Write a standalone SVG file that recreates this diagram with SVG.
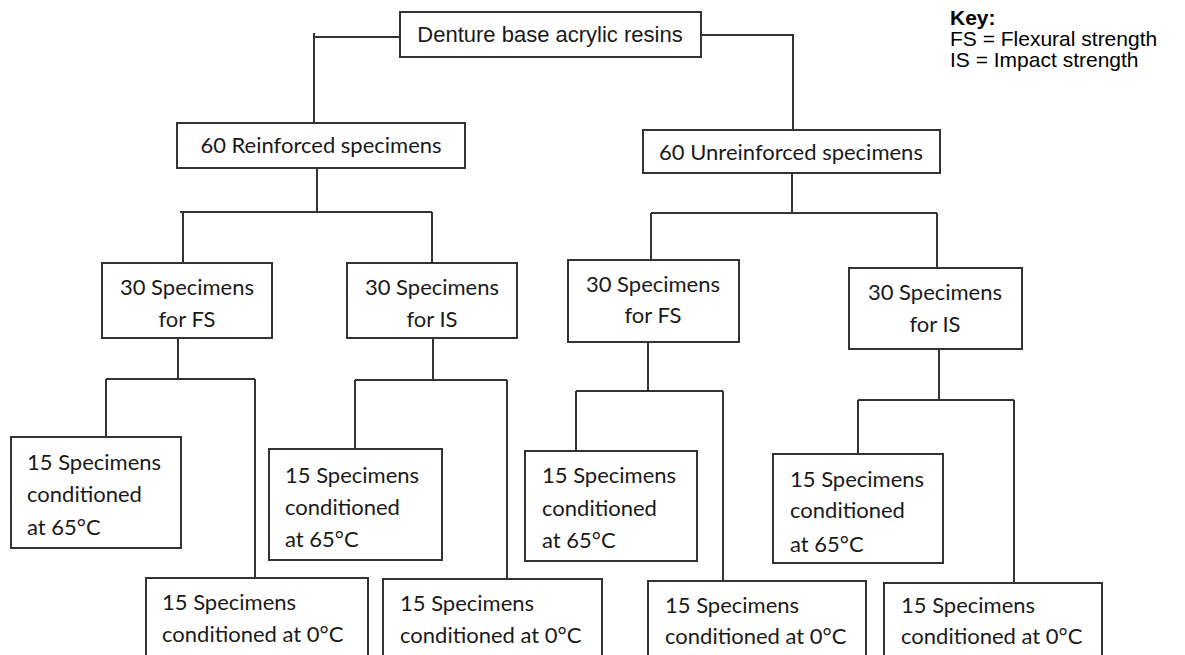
<svg xmlns="http://www.w3.org/2000/svg" width="1185" height="655" viewBox="0 0 1185 655">
<style>
.box{fill:#fff;stroke:#333;stroke-width:2}
.ln{fill:none;stroke:#333;stroke-width:2}
.t{font-family:Lato,"Open Sans",sans-serif;font-size:22px;fill:#1a1a1a}
.c{text-anchor:middle}
.a{font-family:"Liberation Sans",Arial,sans-serif;font-size:22px;fill:#1a1a1a}
.k{font-family:"Liberation Sans",Arial,sans-serif;font-size:21px;fill:#000}
</style>
<rect width="1185" height="655" fill="#fff"/>
<g id="connectors" class="ln">
<path d="M400,37 H314 M314,33 V123"/>
<path d="M701,35 H793 V130"/>
<path d="M317,168 V212 M180,212 H432 M183,212 V263 M432,212 V263"/>
<path d="M792,173 V213 M651,213 H937 M651,213 V260 M937,213 V268"/>
<path d="M178,338 V379 M106,379 H255 M106,379 V437 M255,379 V578"/>
<path d="M433,338 V380 M355,380 H507 M355,380 V449 M507,380 V579"/>
<path d="M648,342 V391 M576,391 H723 M576,391 V451 M723,391 V581"/>
<path d="M939,349 V400 M858,400 H1014 M858,400 V454 M1014,400 V583"/>
</g>
<g id="root"><rect class="box" x="400" y="12" width="301" height="45"/><text class="a c" x="550" y="42">Denture base acrylic resins</text></g>
<g id="reinforced"><rect class="box" x="177" y="123" width="288" height="45"/><text class="t c" x="321" y="153">60 Reinforced specimens</text></g>
<g id="unreinforced"><rect class="box" x="643" y="130" width="297" height="43"/><text class="t c" x="791" y="160">60 Unreinforced specimens</text></g>
<g id="r-fs"><rect class="box" x="102" y="263" width="170" height="75"/><text class="t c" x="187" y="295">30 Specimens</text><text class="t c" x="187" y="327">for FS</text></g>
<g id="r-is"><rect class="box" x="347" y="263" width="170" height="75"/><text class="t c" x="432" y="295">30 Specimens</text><text class="t c" x="432" y="327">for IS</text></g>
<g id="u-fs"><rect class="box" x="568" y="260" width="171" height="82"/><text class="t c" x="653" y="292">30 Specimens</text><text class="t c" x="653" y="323">for FS</text></g>
<g id="u-is"><rect class="box" x="849" y="268" width="173" height="81"/><text class="t c" x="935" y="300">30 Specimens</text><text class="t c" x="935" y="332">for IS</text></g>
<g id="r-fs-65"><rect class="box" x="11" y="437" width="170" height="111"/><text class="t" x="27" y="470">15 Specimens</text><text class="t" x="27" y="502">conditioned</text><text class="t" x="27" y="535">at 65°C</text></g>
<g id="r-fs-0"><rect class="box" x="146" y="578" width="222" height="90"/><text class="t" x="162" y="610">15 Specimens</text><text class="t" x="162" y="642">conditioned at 0°C</text></g>
<g id="r-is-65"><rect class="box" x="269" y="449" width="173" height="111"/><text class="t" x="285" y="483">15 Specimens</text><text class="t" x="285" y="515">conditioned</text><text class="t" x="285" y="547">at 65°C</text></g>
<g id="r-is-0"><rect class="box" x="383" y="579" width="219" height="90"/><text class="t" x="400" y="611">15 Specimens</text><text class="t" x="400" y="643">conditioned at 0°C</text></g>
<g id="u-fs-65"><rect class="box" x="525" y="451" width="172" height="110"/><text class="t" x="542" y="483">15 Specimens</text><text class="t" x="542" y="516">conditioned</text><text class="t" x="542" y="548">at 65°C</text></g>
<g id="u-fs-0"><rect class="box" x="648" y="581" width="218" height="90"/><text class="t" x="665" y="613">15 Specimens</text><text class="t" x="665" y="644">conditioned at 0°C</text></g>
<g id="u-is-65"><rect class="box" x="773" y="454" width="170" height="109"/><text class="t" x="790" y="487">15 Specimens</text><text class="t" x="790" y="518">conditioned</text><text class="t" x="790" y="552">at 65°C</text></g>
<g id="u-is-0"><rect class="box" x="884" y="583" width="218" height="90"/><text class="t" x="901" y="613">15 Specimens</text><text class="t" x="901" y="644">conditioned at 0°C</text></g>
<g id="key"><text class="k" x="950" y="25" font-weight="bold">Key:</text><text class="k" x="950" y="46">FS = Flexural strength</text><text class="k" x="950" y="67">IS = Impact strength</text></g>
</svg>
